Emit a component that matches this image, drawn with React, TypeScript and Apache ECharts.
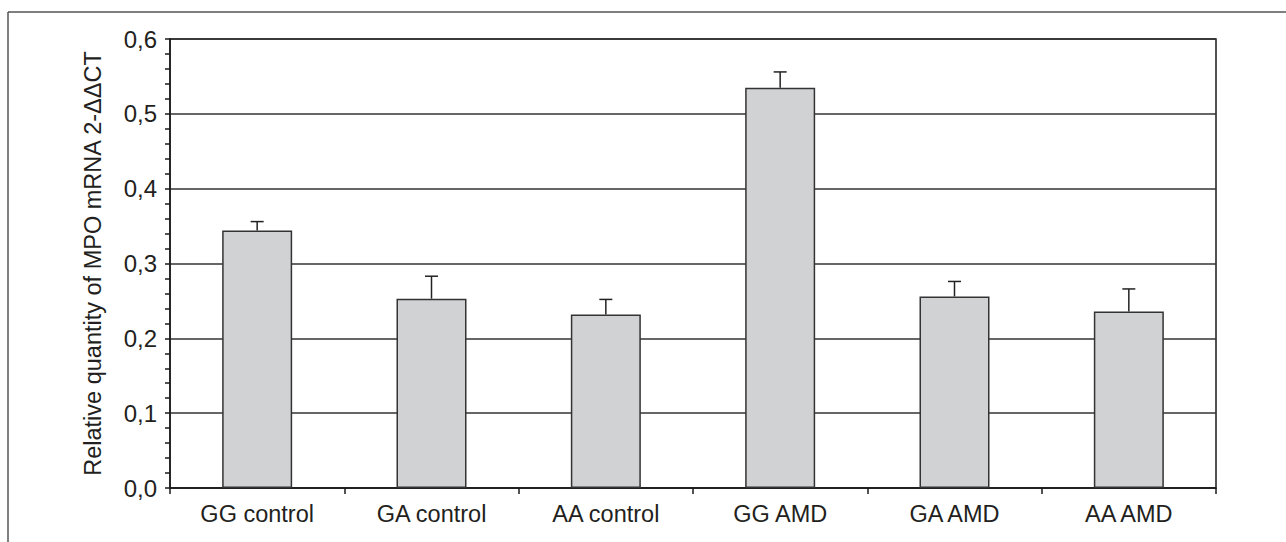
import React, { useEffect, useRef } from "react";
import * as echarts from "echarts";

const categories = ["GG control", "GA control", "AA control", "GG AMD", "GA AMD", "AA AMD"];
const means = [0.344, 0.253, 0.232, 0.535, 0.256, 0.236];
const upperErrors = [0.356, 0.283, 0.252, 0.556, 0.276, 0.266];
const yTicks = { min: 0, max: 0.6, interval: 0.1 };
const yTitle = "Relative quantity of MPO mRNA 2-ΔΔCT";

export default function App() {
  const ref = useRef<HTMLDivElement>(null);
  useEffect(() => {
    if (!ref.current) return;
    const chart = echarts.init(ref.current, null, { renderer: "svg" });
    const font = "Liberation Sans, Arial, sans-serif";
    chart.setOption({
      animation: false,
      backgroundColor: "#ffffff",
      grid: {
        left: 170,
        top: 39,
        right: 70,
        bottom: 54,
        show: true,
        borderColor: "#1a1a1a",
        borderWidth: 1.5,
        backgroundColor: "transparent",
      },
      graphic: [
        { type: "line", shape: { x1: 8, y1: 12, x2: 1286, y2: 12 }, style: { stroke: "#555", lineWidth: 1.5 } },
        { type: "line", shape: { x1: 8, y1: 12, x2: 8, y2: 542 }, style: { stroke: "#555", lineWidth: 1.5 } },
      ],
      xAxis: {
        type: "category",
        data: categories,
        boundaryGap: true,
        axisLine: { lineStyle: { color: "#1a1a1a", width: 1.5 } },
        axisTick: { show: true, alignWithLabel: false, length: 6, lineStyle: { color: "#1a1a1a", width: 1.5 } },
        axisLabel: { color: "#231f20", fontSize: 23.5, fontFamily: font, margin: 14 },
        splitLine: { show: false },
      },
      yAxis: {
        type: "value",
        min: yTicks.min,
        max: yTicks.max,
        interval: yTicks.interval,
        name: yTitle,
        nameLocation: "middle",
        nameGap: 65,
        nameRotate: 90,
        nameTextStyle: { color: "#231f20", fontSize: 23.5, fontFamily: font },
        axisLine: { show: true, lineStyle: { color: "#1a1a1a", width: 1.5 } },
        axisTick: { show: true, inside: false, length: 5, lineStyle: { color: "#1a1a1a", width: 1.5 } },
        minorTick: { show: true, splitNumber: 5, length: 5, lineStyle: { color: "#1a1a1a", width: 1.5 } },
        axisLabel: {
          color: "#231f20",
          fontSize: 24,
          fontFamily: font,
          margin: 13,
          formatter: (v: number) => v.toFixed(1).replace(".", ","),
        },
        splitLine: { show: true, lineStyle: { color: "#333", width: 1.5 } },
      },
      series: [
        {
          type: "bar",
          data: means,
          barWidth: 70,
          itemStyle: { color: "#d1d2d4", borderColor: "#333", borderWidth: 1.5 },
          z: 2,
        },
        {
          type: "custom",
          data: means.map((m, i) => [i, m, upperErrors[i]]),
          z: 3,
          renderItem: (params: any, api: any) => {
            const i = api.value(0);
            const base = api.coord([i, api.value(1)]);
            const top = api.coord([i, api.value(2)]);
            const hw = 6.5;
            return {
              type: "group",
              children: [
                { type: "line", shape: { x1: base[0], y1: base[1], x2: top[0], y2: top[1] }, style: { stroke: "#222", lineWidth: 1.5 } },
                { type: "line", shape: { x1: top[0] - hw, y1: top[1], x2: top[0] + hw, y2: top[1] }, style: { stroke: "#222", lineWidth: 1.5 } },
              ],
            };
          },
        },
      ],
    });
    return () => chart.dispose();
  }, []);
  return (
    <div
      ref={ref}
      style={{ position: "fixed", left: 0, top: 0, width: 1286, height: 542, background: "#fff" }}
    />
  );
}
